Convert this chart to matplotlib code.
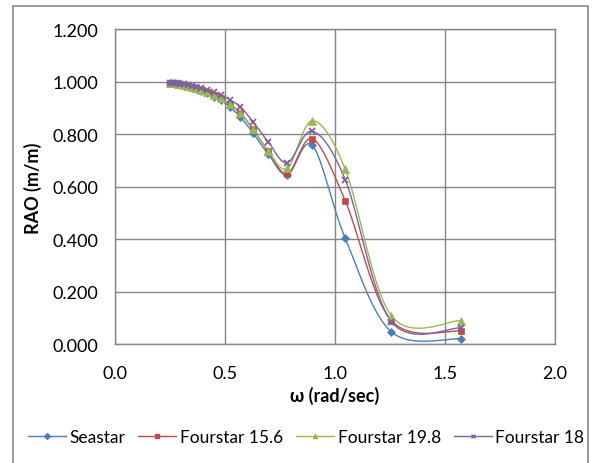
import matplotlib
matplotlib.use("Agg")
import matplotlib.pyplot as plt
from matplotlib.patches import Rectangle
import numpy as np

# wave frequency (rad/sec) and RAO values
omega = [0.251, 0.262, 0.273, 0.286, 0.299, 0.314, 0.331, 0.349, 0.370, 0.393, 0.419,
         0.449, 0.483, 0.524, 0.571, 0.628, 0.698, 0.785, 0.898, 1.047, 1.257, 1.571]
seastar = [0.995, 0.994, 0.993, 0.991, 0.989, 0.986, 0.983, 0.978, 0.972, 0.966, 0.957,
           0.944, 0.929, 0.904, 0.866, 0.806, 0.724, 0.646, 0.758, 0.405, 0.048, 0.022]
fourstar_156 = [0.996, 0.995, 0.994, 0.992, 0.990, 0.988, 0.985, 0.981, 0.976, 0.970, 0.962,
                0.951, 0.937, 0.914, 0.880, 0.820, 0.735, 0.650, 0.783, 0.548, 0.091, 0.051]
fourstar_198 = [0.996, 0.995, 0.994, 0.992, 0.990, 0.988, 0.985, 0.981, 0.976, 0.970, 0.962,
                0.951, 0.937, 0.915, 0.882, 0.822, 0.736, 0.671, 0.851, 0.668, 0.109, 0.091]
fourstar_18 = [0.997, 0.996, 0.995, 0.994, 0.992, 0.990, 0.988, 0.985, 0.981, 0.976, 0.969,
               0.960, 0.950, 0.931, 0.905, 0.848, 0.771, 0.692, 0.812, 0.628, 0.087, 0.063]

series_names = ["Seastar", "Fourstar 15.6", "Fourstar 19.8", "Fourstar 18"]
x_ticks = [0.0, 0.5, 1.0, 1.5, 2.0]
y_ticks = [0.0, 0.2, 0.4, 0.6, 0.8, 1.0, 1.2]

plt.rcParams['font.family'] = ['Lato', 'DejaVu Sans']


def smooth(x, y, n=20):
    # Excel-like smoothed line (Catmull-Rom through the points)
    x = np.asarray(x, float)
    y = np.asarray(y, float)
    px = np.concatenate([[x[0]], x, [x[-1]]])
    py = np.concatenate([[y[0]], y, [y[-1]]])
    xs, ys = [], []
    t = np.linspace(0, 1, n)
    for i in range(1, len(px) - 2):
        p0, p1, p2, p3 = (np.array([px[j], py[j]]) for j in (i - 1, i, i + 1, i + 2))
        c1 = p1 + (p2 - p0) / 6
        c2 = p2 - (p3 - p1) / 6
        b = ((1 - t) ** 3)[:, None] * p1 + (3 * (1 - t) ** 2 * t)[:, None] * c1 \
            + (3 * (1 - t) * t ** 2)[:, None] * c2 + (t ** 3)[:, None] * p2
        xs.extend(b[:, 0])
        ys.extend(b[:, 1])
    return xs, ys


fig = plt.figure(figsize=(5.92, 4.64), dpi=100)
fig.patches.append(Rectangle((13 / 592, -0.01), 575 / 592, 1 - 7 / 464 + 0.01,
                             transform=fig.transFigure, fill=False,
                             edgecolor='#868686', linewidth=1.2))
ax = fig.add_axes([0.1937, 0.2554, 0.7438, 0.6793])

colors = ['#4A7EBB', '#BE4B48', '#98B954', '#7D60A0']
markers = ['D', 's', '^', 'x']
msizes = [3.8, 5, 5.5, 5]
for vals, name, c, m, ms in zip([seastar, fourstar_156, fourstar_198, fourstar_18],
                                series_names, colors, markers, msizes):
    sx, sy = smooth(omega, vals)
    ax.plot(sx, sy, color=c, linewidth=1.0, zorder=3)
    ax.plot(omega, vals, linestyle='none', marker=m, markersize=ms, color=c,
            markeredgewidth=1.3 if m == 'x' else 0.5, zorder=4)
    ax.plot([], [], color=c, linewidth=1.0, marker=m, markersize=3, label=name)

ax.set_xlim(0, 2.0)
ax.set_ylim(0, 1.2)
ax.set_xticks(x_ticks)
ax.set_xticklabels([f"{v:.1f}" for v in x_ticks])
ax.set_yticks(y_ticks)
ax.set_yticklabels([f"{v:.3f}" for v in y_ticks])
ax.grid(True, color='#868686', linewidth=1.0)
ax.set_axisbelow(True)
ax.tick_params(length=0, labelsize=13, colors='black')
ax.tick_params(axis='x', pad=15)
ax.tick_params(axis='y', pad=12)
for s in ax.spines.values():
    s.set_color('#868686')
    s.set_linewidth(1.0)

ax.set_xlabel("ω (rad/sec)", fontsize=13, fontweight='bold', labelpad=3)
ax.set_ylabel("RAO (m/m)", fontsize=13, fontweight='bold', labelpad=7)

fig.legend(loc='center', bbox_to_anchor=(0.5 + 10 / 592, 1 - 438 / 464), ncol=4,
           frameon=False, fontsize=12.5, handlelength=2.2, handletextpad=0.2,
           columnspacing=0.75, borderaxespad=0)

fig.savefig("out.png", dpi=100)
